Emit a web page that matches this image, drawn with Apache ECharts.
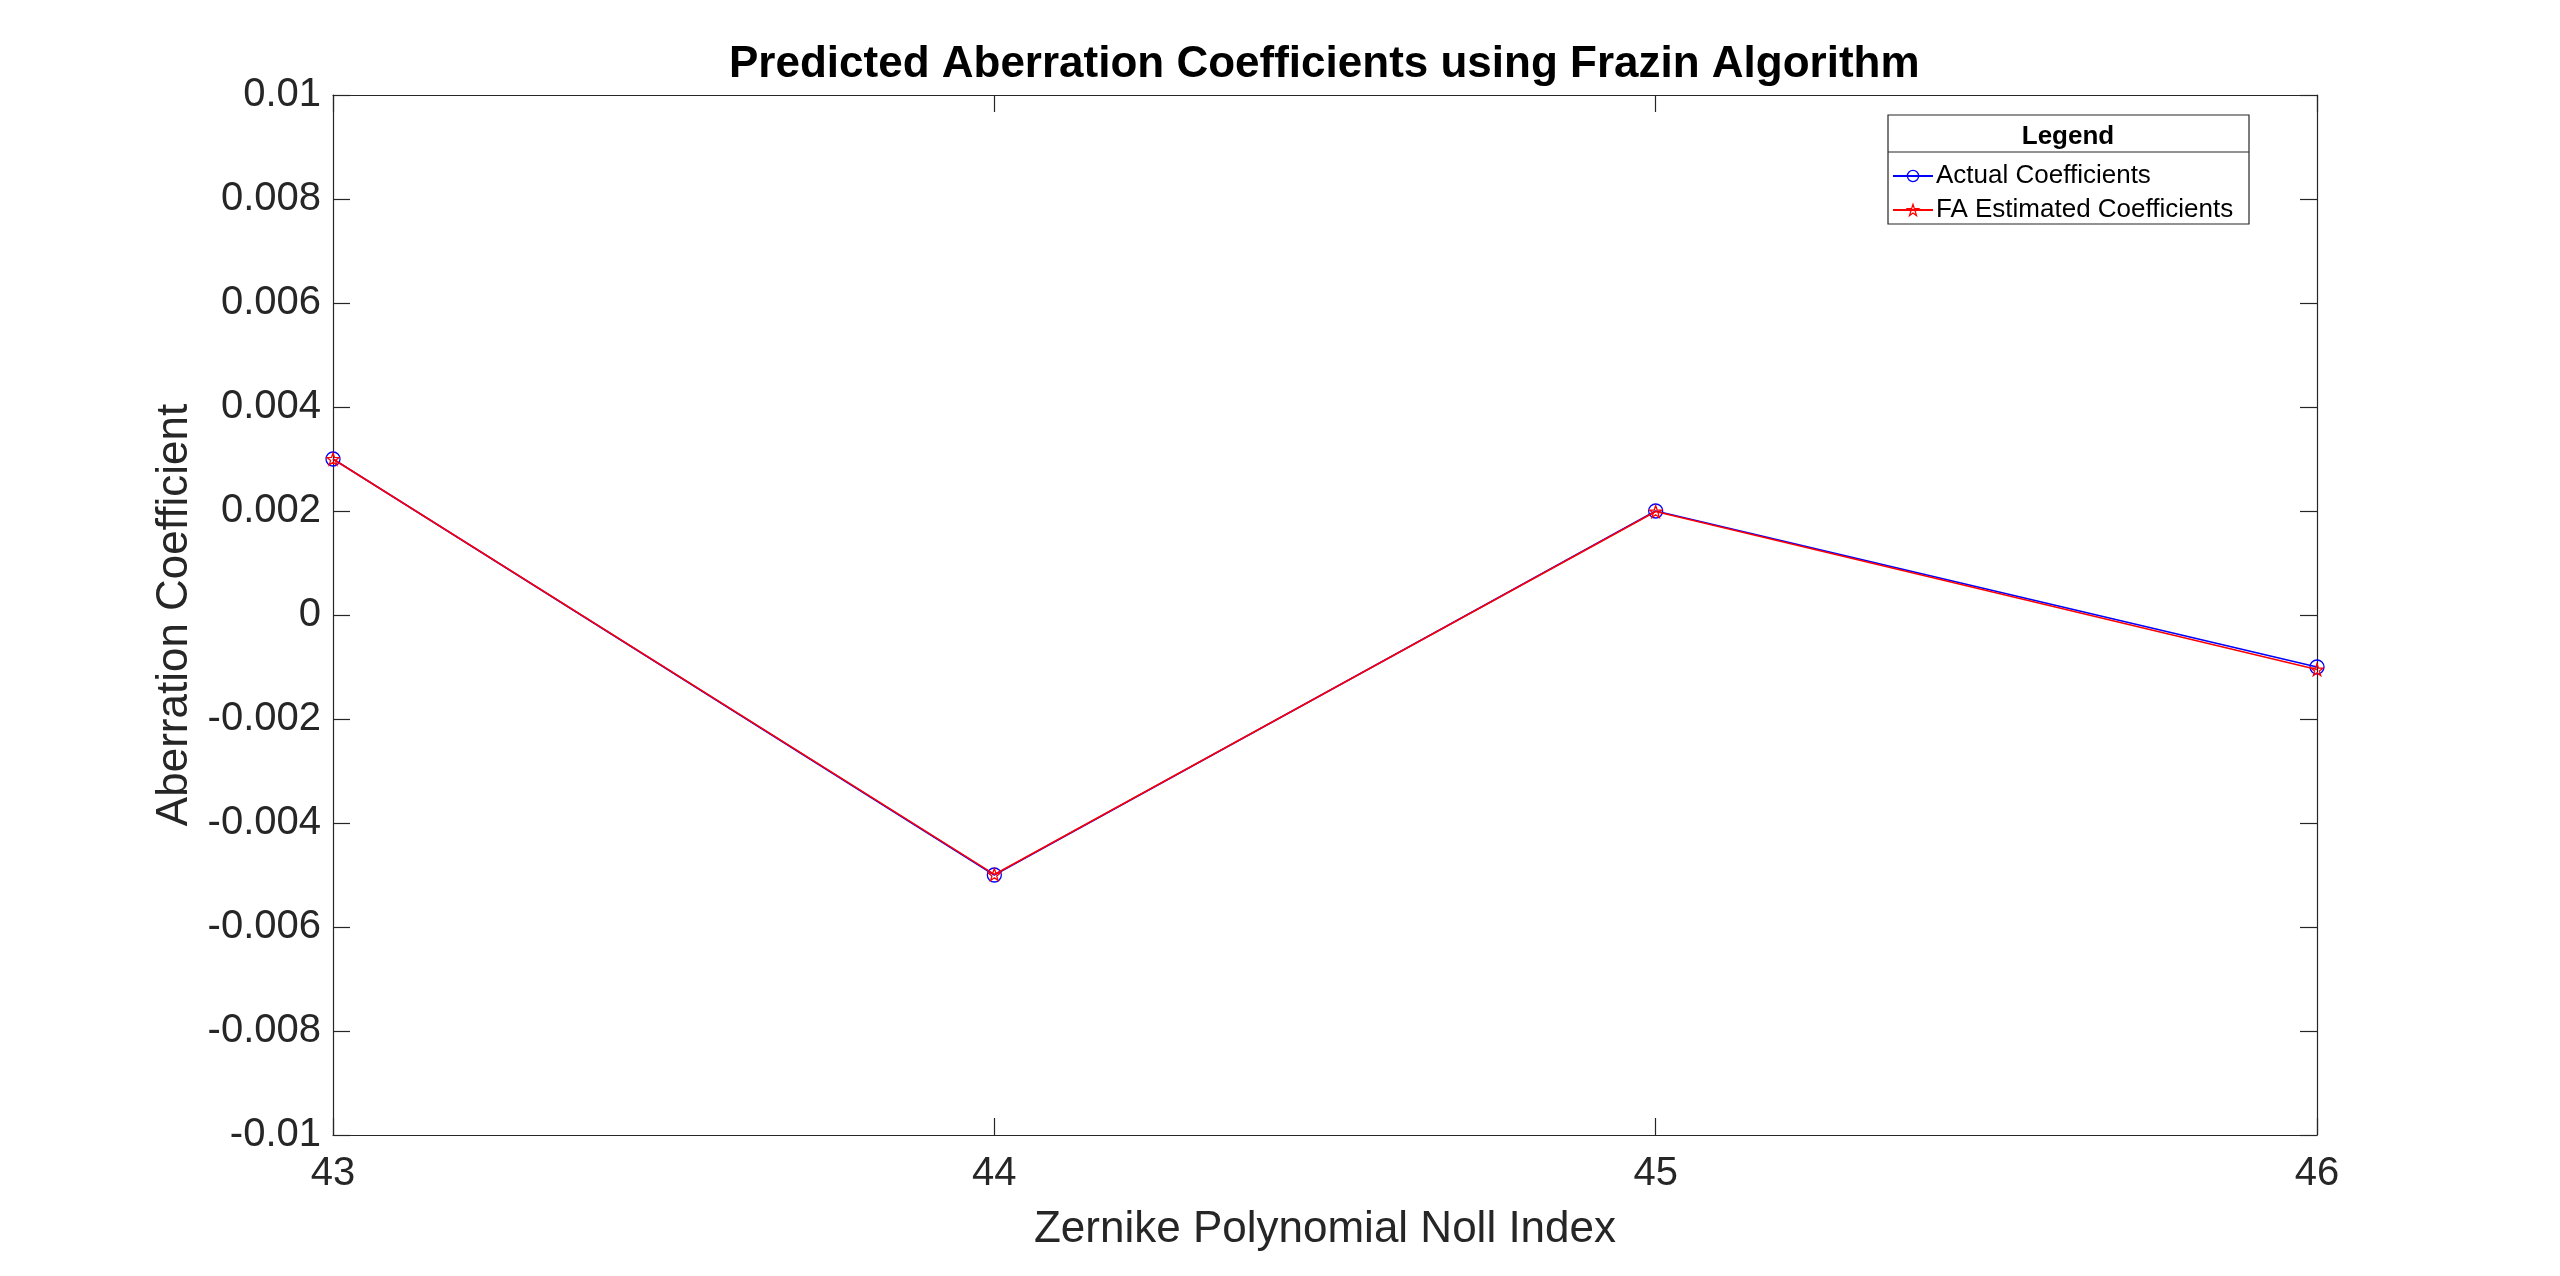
<!DOCTYPE html>
<html>
<head>
<meta charset="utf-8">
<script src="https://cdn.jsdelivr.net/npm/echarts@6/dist/echarts.min.js"></script>
<style>
html,body{margin:0;padding:0;background:#fff;}
#chart{width:2560px;height:1276px;}
</style>
</head>
<body>
<div id="chart"></div>
<script>
// ---- data ----
var nollIndex = [43, 44, 45, 46];
var actualCoefficients = [0.003, -0.005, 0.002, -0.001];
var estimatedCoefficients = [0.003, -0.00499, 0.00199, -0.00105];
var xTicks = [43, 44, 45, 46];
var yTicks = [-0.01, -0.008, -0.006, -0.004, -0.002, 0, 0.002, 0.004, 0.006, 0.008, 0.01];
var seriesNames = ['Actual Coefficients', 'FA Estimated Coefficients'];

var FONT = 'Liberation Sans, Arial, Helvetica, sans-serif';
var AX = '#262626';
var STAR = 'path://M0,-10 L2.35,-3.24 L9.51,-3.09 L3.8,1.24 L5.88,8.09 L0,4 L-5.88,8.09 L-3.8,1.24 L-9.51,-3.09 L-2.35,-3.24 Z';
var CLEAR = 'rgba(255,255,255,0)';

function pairs(xs, ys) { return xs.map(function (x, i) { return [x, ys[i]]; }); }
function fmtY(v) { var r = parseFloat(v.toFixed(4)); return r === 0 ? '0' : String(r); }

var xMin = xTicks[0], xMax = xTicks[xTicks.length - 1], xInt = xTicks[1] - xTicks[0];
var yMin = yTicks[0], yMax = yTicks[yTicks.length - 1], yInt = 0.002;

var grid = { left: 333, right: 243, top: 95, bottom: 141 };

function frameAxis(extra) {
  var base = {
    axisLine: { show: true, onZero: false, lineStyle: { color: AX, width: 1.2 } },
    axisTick: { show: true, inside: true, length: 17, lineStyle: { color: AX, width: 1.2 } },
    splitLine: { show: false }
  };
  for (var k in extra) base[k] = extra[k];
  return base;
}

var chart = echarts.init(document.getElementById('chart'), null, { renderer: 'canvas' });
chart.setOption({
  backgroundColor: '#fff',
  animation: false,
  textStyle: { fontFamily: FONT },
  title: {
    text: 'Predicted Aberration Coefficients using Frazin Algorithm',
    left: 729, top: 43, padding: 0,
    textStyle: { fontFamily: FONT, fontSize: 44, fontWeight: 'bold', color: '#000' }
  },
  grid: grid,
  legend: {
    orient: 'vertical',
    left: 1892, top: 161, padding: 0,
    itemWidth: 40, itemHeight: 14, itemGap: 4,
    data: [
      { name: seriesNames[0], itemStyle: { color: CLEAR, borderColor: '#0000ff', borderWidth: 1.3 } },
      { name: seriesNames[1], itemStyle: { color: CLEAR, borderColor: '#ff0000', borderWidth: 1.3 } }
    ],
    textStyle: { fontFamily: FONT, fontSize: 26, color: '#000', lineHeight: 30, padding: [0, 0, 0, -2] }
  },
  graphic: [
    { type: 'rect', shape: { x: 1888, y: 115, width: 361, height: 109 }, style: { fill: CLEAR, stroke: AX, lineWidth: 1.2 }, z: 100, silent: true },
    { type: 'line', shape: { x1: 1888, y1: 152, x2: 2249, y2: 152 }, style: { stroke: AX, lineWidth: 1.2 }, z: 100, silent: true },
    { type: 'text', x: 2068, y: 137, style: { text: 'Legend', fontFamily: FONT, fontSize: 26, fontWeight: 'bold', fill: '#000', align: 'center', verticalAlign: 'middle' }, z: 100, silent: true }
  ],
  xAxis: [
    frameAxis({
      type: 'value', min: xMin, max: xMax, interval: xInt,
      name: 'Zernike Polynomial Noll Index', nameLocation: 'middle', nameGap: 73,
      nameTextStyle: { fontFamily: FONT, fontSize: 44, color: AX },
      axisLabel: { show: true, margin: 19, fontFamily: FONT, fontSize: 40, color: AX, showMinLabel: true, showMaxLabel: true }
    }),
    frameAxis({
      type: 'value', position: 'top', min: xMin, max: xMax, interval: xInt,
      axisLabel: { show: false }
    })
  ],
  yAxis: [
    frameAxis({
      type: 'value', min: yMin, max: yMax, interval: yInt,
      name: 'Aberration Coefficient', nameLocation: 'middle', nameGap: 130, nameRotate: 90,
      nameTextStyle: { fontFamily: FONT, fontSize: 44, color: AX },
      axisLabel: { show: true, margin: 12, fontFamily: FONT, fontSize: 40, color: AX, formatter: fmtY, showMinLabel: true, showMaxLabel: true }
    }),
    frameAxis({
      type: 'value', position: 'right', min: yMin, max: yMax, interval: yInt,
      axisLabel: { show: false }
    })
  ],
  series: [
    {
      name: seriesNames[0], type: 'line', xAxisIndex: 0, yAxisIndex: 0,
      data: pairs(nollIndex, actualCoefficients),
      symbol: 'circle', symbolSize: 14, showAllSymbol: true,
      lineStyle: { color: '#0000ff', width: 1.5 },
      itemStyle: { color: CLEAR, borderColor: '#0000ff', borderWidth: 1.3 },
      z: 2
    },
    {
      name: seriesNames[1], type: 'line', xAxisIndex: 0, yAxisIndex: 0,
      data: pairs(nollIndex, estimatedCoefficients),
      symbol: STAR, symbolSize: 12, showAllSymbol: true,
      lineStyle: { color: '#ff0000', width: 1.5 },
      itemStyle: { color: CLEAR, borderColor: '#ff0000', borderWidth: 1.3 },
      z: 3
    }
  ]
});
</script>
</body>
</html>
